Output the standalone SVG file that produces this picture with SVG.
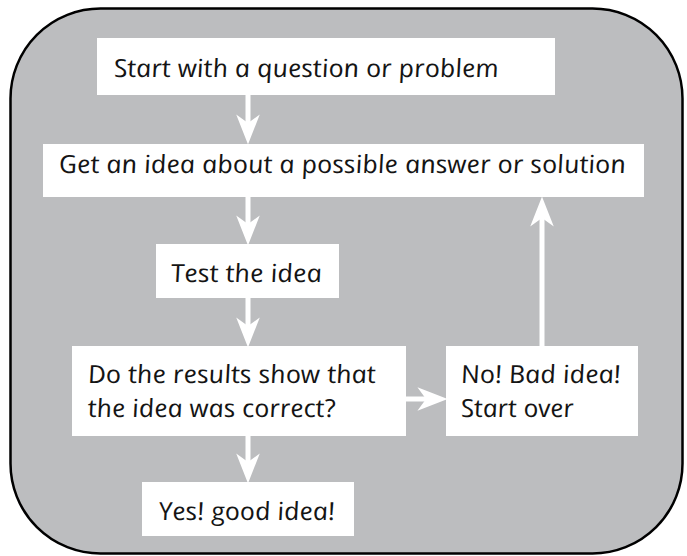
<svg xmlns="http://www.w3.org/2000/svg" width="687" height="556" viewBox="0 0 687 556">
  <style>
    .panel { fill: #bcbdbf; stroke: #000000; stroke-width: 2.5; }
    .box { fill: #ffffff; }
    .label { font-family: "Open Sans", "Noto Sans", sans-serif; font-style: italic; font-weight: 400; font-size: 25px; fill: #141414; }
    .link { stroke: #ffffff; stroke-width: 5; fill: none; marker-end: url(#head); }
  </style>
  <defs>
    <marker id="head" markerUnits="userSpaceOnUse" markerWidth="30" markerHeight="24" viewBox="0 0 28 22" refX="8" refY="11" orient="auto">
      <path d="M0,0 L28,11 L0,22 L8,11 Z" fill="#ffffff"/>
    </marker>
  </defs>

  <!-- background panel -->
  <rect class="panel" x="10.5" y="8.5" width="672" height="545" rx="90" ry="90"/>

  <!-- connectors -->
  <g id="connectors">
    <line class="link" x1="248" y1="95" x2="248" y2="123"/>
    <line class="link" x1="248" y1="197" x2="248" y2="224"/>
    <line class="link" x1="248" y1="298" x2="248" y2="326"/>
    <line class="link" x1="248" y1="436" x2="248" y2="462"/>
    <line class="link" x1="406" y1="399" x2="426" y2="399"/>
    <line class="link" x1="542" y1="346" x2="542" y2="218"/>
  </g>

  <!-- labels use a gentler slant than the italic face -->
  <g id="question">
    <rect class="box" x="97" y="38" width="458" height="57"/>
    <text class="label" transform="translate(115,77) skewX(10)" textLength="385" lengthAdjust="spacingAndGlyphs">Start with a question or problem</text>
  </g>

  <g id="idea">
    <rect class="box" x="43" y="144" width="601" height="53"/>
    <text class="label" transform="translate(60,173) skewX(10)" textLength="567" lengthAdjust="spacingAndGlyphs">Get an idea about a possible answer or solution</text>
  </g>

  <g id="test">
    <rect class="box" x="156" y="244" width="183" height="54"/>
    <text class="label" transform="translate(172,282) skewX(10)" textLength="151" lengthAdjust="spacingAndGlyphs">Test the idea</text>
  </g>

  <g id="results">
    <rect class="box" x="72" y="346" width="334" height="90"/>
    <text class="label" transform="translate(89,383) skewX(10)" textLength="288" lengthAdjust="spacingAndGlyphs">Do the results show that</text>
    <text class="label" transform="translate(89,417) skewX(10)" textLength="248" lengthAdjust="spacingAndGlyphs">the idea was correct?</text>
  </g>

  <g id="bad">
    <rect class="box" x="446" y="346" width="192" height="90"/>
    <text class="label" transform="translate(462,383) skewX(10)" textLength="160" lengthAdjust="spacingAndGlyphs">No! Bad idea!</text>
    <text class="label" transform="translate(462,417) skewX(10)" textLength="113" lengthAdjust="spacingAndGlyphs">Start over</text>
  </g>

  <g id="good">
    <rect class="box" x="142" y="482" width="212" height="54"/>
    <text class="label" transform="translate(160,520) skewX(10)" textLength="176" lengthAdjust="spacingAndGlyphs">Yes! good idea!</text>
  </g>
</svg>
